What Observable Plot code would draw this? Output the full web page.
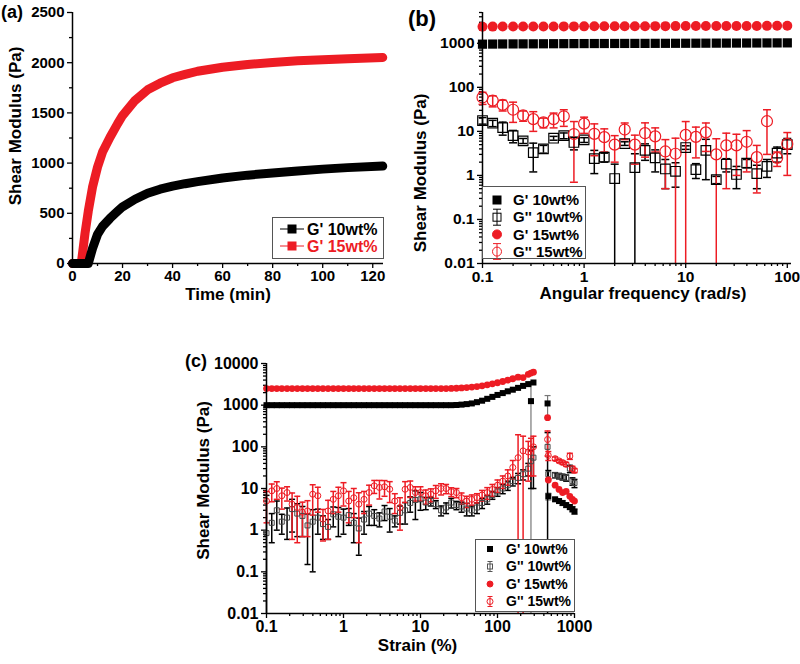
<!DOCTYPE html>
<html><head><meta charset="utf-8">
<script src="https://cdn.jsdelivr.net/npm/d3@7"></script>
<script src="https://cdn.jsdelivr.net/npm/@observablehq/plot@0.6"></script>
<style>
body{margin:0;background:#fff;}
#wrap{position:relative;width:800px;height:664px;overflow:hidden;background:#fff;font-family:"Liberation Sans",Arial,Helvetica,sans-serif;}
.lab{position:absolute;font-weight:bold;color:#000;line-height:1;}
</style></head><body><div id="wrap"></div>
<script>
const RED = "#ed1c24";
const FONT = '"Liberation Sans", Arial, Helvetica, sans-serif';

// ---------- (a) time sweep ----------
const timeA = [0, 2, 3.5, 5, 6.3, 8, 10, 12, 15, 18, 20, 25, 30, 35, 40, 45, 50, 60, 70, 80, 90, 100, 110, 124];
const gp10A = [0, 0, 0, 0, 0, 150, 290, 370, 450, 520, 565, 640, 700, 740, 770, 795, 815, 852, 880, 902, 922, 940, 955, 970];
const gp15A = [0, 0, 0, 300, 520, 760, 960, 1110, 1258, 1391, 1474, 1624, 1730, 1796, 1850, 1883, 1915, 1955, 1982, 2002, 2019, 2029, 2039, 2052];
const ticksAx = [0, 20, 40, 60, 80, 100, 120];
const ticksAy = [0, 500, 1000, 1500, 2000, 2500];
const minorAx = [10, 30, 50, 70, 90, 110];
const minorAy = [250, 750, 1250, 1750, 2250];

// ---------- (b) frequency sweep ----------
const freqB = [0.1, 0.126, 0.158, 0.2, 0.251, 0.316, 0.398, 0.501, 0.631, 0.794, 1, 1.26, 1.58, 2, 2.51, 3.16, 3.98, 5.01, 6.31, 7.94, 10, 12.6, 15.8, 20, 25.1, 31.6, 39.8, 50.1, 63.1, 79.4, 100];
const gp10B = [955, 960, 965, 968, 970, 972, 975, 978, 980, 982, 985, 987, 988, 990, 992, 993, 995, 997, 998, 1000, 1002, 1004, 1006, 1008, 1010, 1012, 1014, 1016, 1018, 1020, 1022];
const gp15B = [2380, 2390, 2395, 2400, 2405, 2410, 2410, 2415, 2420, 2420, 2425, 2430, 2430, 2435, 2440, 2440, 2445, 2450, 2450, 2455, 2460, 2460, 2465, 2470, 2470, 2475, 2480, 2480, 2485, 2490, 2490];
const gpp10B = [17.6, 15.3, 12.2, 8, 6.1, 3.3, 4.0, 7.0, 8, 5.6, 6.4, 2.4, 2.6, 0.85, 5.3, 1.5, 3.7, 2.5, 1.4, 1.24, 4.3, 1.35, 3.7, 0.8, 1.8, 1.05, 1.9, 1.1, 1.6, 3.2, 5.0];
const gpp10Bsd = [3, 2.5, 4, 2.5, 0.8, 2.1, 0.8, 0.7, 1.2, 1.8, 0.8, 1.3, 0.6, 0.95, 0.5, 1.6, 1.5, 1.3, 0.9, 0.7, 0.4, 0.5, 2.9, 0.15, 0.6, 0.55, 0.4, 0.6, 0.7, 1.2, 1.9];
const gpp15B = [59, 50, 40, 31, 23, 19, 16, 19, 22, 8.7, 15, 8.8, 7.4, 5, 11, 5, 9.1, 7.7, 3.5, 3.1, 8.3, 7.5, 9.5, 3.0, 4.8, 4.8, 5.8, 2.6, 17, 2.5, 5.2];
const gpp15Bsd = [18, 14, 11, 15, 6, 9, 4, 7, 9, 8, 6, 6, 4, 3, 4.5, 3.2, 6.5, 4.3, 3.0, 3.9, 8.4, 5, 6, 3.8, 4.3, 3.8, 4.6, 2.2, 14, 0.9, 4.2];
const ticksBx = [0.1, 1, 10, 100];
const ticksBy = [0.01, 0.1, 1, 10, 100, 1000];

// ---------- (c) strain sweep ----------
const strainC = [0.1, 0.117, 0.136, 0.158, 0.185, 0.215, 0.251, 0.293, 0.341, 0.398, 0.464, 0.541, 0.631, 0.736, 0.858,
  1, 1.17, 1.36, 1.58, 1.85, 2.15, 2.51, 2.93, 3.41, 3.98, 4.64, 5.41, 6.31, 7.36, 8.58,
  10, 11.7, 13.6, 15.8, 18.5, 21.5, 25.1, 29.3, 34.1, 39.8, 46.4, 54.1, 63.1, 73.6, 85.8,
  100, 117, 136, 158, 185, 215, 251, 272, 293,
  447, 457, 560, 630, 700, 780, 870, 940, 1000];
const gp10C = [1000, 1000, 1000, 1000, 1000, 1000, 1000, 1000, 1000, 1000, 1000, 1000, 1000, 1000, 1000,
  1000, 1000, 1000, 1000, 1000, 1000, 1000, 1000, 1000, 1000, 1000, 1000, 1000, 1000, 1000,
  1000, 1000, 1000, 1000, 1000, 1000, 1000, 1010, 1030, 1060, 1100, 1180, 1280, 1420, 1580,
  1760, 1950, 2150, 2350, 2600, 2900, 3200, 1250, 3500,
  1100, 6.5, 5.5, 5.0, 4.5, 4.0, 3.6, 3.2, 2.8];
const gp10Csd = [0, 0, 0, 0, 0, 0, 0, 0, 0, 0, 0, 0, 0, 0, 0,
  0, 0, 0, 0, 0, 0, 0, 0, 0, 0, 0, 0, 0, 0, 0,
  0, 0, 0, 0, 0, 0, 0, 0, 0, 0, 0, 0, 0, 0, 0,
  0, 0, 0, 0, 0, 0, 0, 2300, 0,
  600, 1.2, 0.6, 0.6, 0.6, 0.5, 0.5, 0.5, 0.4];
const gp15C = [2500, 2500, 2500, 2500, 2500, 2500, 2500, 2500, 2500, 2500, 2500, 2500, 2500, 2500, 2500,
  2500, 2500, 2500, 2500, 2500, 2500, 2500, 2500, 2500, 2500, 2500, 2500, 2500, 2500, 2500,
  2500, 2500, 2500, 2500, 2500, 2500, 2520, 2550, 2600, 2650, 2720, 2800, 2920, 3080, 3250,
  3450, 3700, 4000, 4300, 4700, 4600, 5500, 5900, 6200,
  500, 16, 12, 9.5, 8, 8.5, 6.5, 5.5, 5];
const gpp10C = [0.85, 1.5, 3.0, 1.6, 2.0, 3.2, 2.5, 2.2, 1.3, 1.6, 2.0, 1.4, 1.2, 2.4, 2.1,
  2.0, 2.3, 1.5, 1.1, 1.8, 2.5, 2.2, 1.9, 2.8, 2.1, 1.7, 2.6, 3.0, 4.5, 5.3,
  5.5, 4.6, 5.0, 4.2, 3.0, 3.5, 4.6, 4.0, 3.7, 3.3, 3.0, 3.5, 4.5, 5.5, 7,
  8.5, 10, 12, 15, 18, 22, 30, 45, 55,
  100, 22, 21, 20, 19, 18, 30, 15, 13.5];
const gpp10Csd = [6, 1.0, 2.0, 0.8, 1.4, 2.3, 1.8, 1.5, 1.15, 1.5, 1.2, 0.8, 0.6, 1.2, 1.4,
  1.2, 1.0, 1.0, 0.85, 1.0, 1.2, 0.9, 0.7, 1.1, 1.2, 0.5, 1.2, 1.6, 1.8, 3.5,
  2.5, 1.5, 1.2, 0.9, 0.8, 1.0, 1.2, 0.9, 1.0, 1.1, 0.8, 1.0, 1.2, 1.3, 1.5,
  2, 2.5, 3, 3.5, 5, 6, 10, 35, 45,
  120, 5, 3, 3, 3, 3, 6, 3, 3];
const gpp15C = [5, 8.8, 10, 6.7, 8, 4.2, 3.5, 2.7, 2.9, 7.3, 6.7, 1.85, 2.9, 5.5, 6.7,
  8.8, 5, 6, 4.2, 5.5, 8, 11.6, 10.6, 11, 9.6, 5, 3.5, 9.6, 10.6, 8,
  8, 6.7, 7.3, 8.8, 10, 10, 8.4, 8, 6, 5, 5.5, 6, 7, 8, 9.5,
  12, 15, 20, 32, 55, 80, 75, 90, 100,
  150, 62, 52, 46, 42, 38, 60, 30, 27];
const gpp15Csd = [3.5, 4, 4.5, 3.5, 3, 3.6, 3, 2, 2.2, 5, 4, 1.3, 2.3, 3, 4,
  5, 3.5, 4, 3.7, 3, 4, 4, 5, 4.5, 5, 2.5, 2.5, 5, 4.5, 3,
  3, 2.5, 2.5, 3, 3, 2.5, 2, 2, 1.8, 1.5, 1.5, 1.5, 2, 2.5, 3,
  4, 5, 8, 15, 140, 100, 60, 70, 80,
  90, 15, 5, 4, 4, 4, 10, 4, 3];
const ticksCx = [0.1, 1, 10, 100, 1000];
const ticksCy = [0.01, 0.1, 1, 10, 100, 1000, 10000];

// ---------- helpers ----------
const wrap = document.getElementById("wrap");
function place(el, left, top) {
  el.style.position = "absolute"; el.style.left = left + "px"; el.style.top = top + "px";
  wrap.appendChild(el);
}
function label(txt, left, top, size) {
  const d = document.createElement("div"); d.className = "lab"; d.textContent = txt;
  d.style.fontSize = size + "px"; place(d, left, top);
}
function logMinor(majors, hi) {
  const out = [];
  majors.forEach(m => { for (let k = 2; k <= 9; k++) { const v = +(m * k).toPrecision(6); if (v <= hi) out.push(v); } });
  return out;
}
const cap = {draw(ctx, size) { const w = Math.sqrt(size); ctx.moveTo(-w / 2, 0); ctx.lineTo(w / 2, 0); }};
function errRows(xs, vals, sds, ymin) {
  return xs.map((x, i) => ({x, sd: sds[i], hi: vals[i] + sds[i], lo: Math.max(vals[i] - sds[i], ymin), clipped: vals[i] - sds[i] <= ymin}))
    .filter(d => d.sd > 0);
}
function errMarks(rows, color, capR, sw) {
  return [
    Plot.ruleX(rows, {x: "x", y1: "lo", y2: "hi", stroke: color, strokeWidth: sw}),
    Plot.dot(rows, {x: "x", y: "hi", symbol: cap, r: capR, stroke: color, strokeWidth: sw, fill: "none"}),
    Plot.dot(rows.filter(d => !d.clipped), {x: "x", y: "lo", symbol: cap, r: capR, stroke: color, strokeWidth: sw, fill: "none"})
  ];
}
function axes(xt, yt, xminor, yminor, fs, fmt) {
  const common = {fontSize: fs, fontWeight: "bold", label: null, stroke: "#000", strokeWidth: 1.3};
  return [
    Plot.axisX({...common, ticks: xt, tickSize: 5, tickPadding: 2, tickFormat: fmt}),
    Plot.axisX({...common, ticks: xminor, tickSize: 3, tickFormat: () => ""}),
    Plot.axisY({...common, ticks: yt, tickSize: 5, tickPadding: 3, tickFormat: fmt}),
    Plot.axisY({...common, ticks: yminor, tickSize: 3, tickFormat: () => ""})
  ];
}
const style = {fontFamily: FONT, fontWeight: "bold", color: "#000", background: "transparent", overflow: "visible"};

// ---------- panel (a) ----------
const dataA = timeA.map((t, i) => ({t, g10: gp10A[i], g15: gp15A[i]}));
const plotA = Plot.plot({
  width: 400, height: 320, marginLeft: 72, marginRight: 17, marginTop: 12, marginBottom: 57,
  style,
  x: {domain: [0, 124.3]},
  y: {domain: [0, 2500]},
  marks: [
    ...axes(ticksAx, ticksAy, minorAx, minorAy, 15, d => String(d)),
    Plot.line(dataA, {x: "t", y: "g15", stroke: RED, strokeWidth: 9}),
    Plot.line(dataA, {x: "t", y: "g10", stroke: "#000", strokeWidth: 9}),
    Plot.ruleX([0], {stroke: "#000", strokeWidth: 1.5}),
    Plot.ruleY([0], {stroke: "#000", strokeWidth: 1.5}),
    Plot.text(["Shear Modulus (Pa)"], {frameAnchor: "left", dx: -57, dy: -12, rotate: -90, textAnchor: "middle", fontSize: 17, fontWeight: "bold"}),
    Plot.text(["Time (min)"], {frameAnchor: "bottom", dy: 36, textAnchor: "middle", fontSize: 17, fontWeight: "bold"})
  ]
});
place(plotA, 0, 0);

// ---------- panel (b) ----------
const yMinB = 0.01;
const dataB = freqB.map((f, i) => ({f, g10: gp10B[i], g15: gp15B[i], gg10: gpp10B[i], gg15: gpp15B[i]}));
const plotB = Plot.plot({
  width: 400, height: 320, marginLeft: 82, marginRight: 9, marginTop: 12, marginBottom: 57,
  style,
  x: {type: "log", domain: [0.1, 110]},
  y: {type: "log", domain: [0.01, 5000]},
  marks: [
    ...axes(ticksBx, ticksBy, logMinor(ticksBx, 110), logMinor(ticksBy, 5000), 15.5, d => String(d)),
    ...errMarks(errRows(freqB, gpp10B, gpp10Bsd, yMinB), "#000", 4.5, 1.5),
    ...errMarks(errRows(freqB, gpp15B, gpp15Bsd, yMinB), RED, 4.5, 1.5),
    Plot.dot(dataB, {x: "f", y: "gg10", symbol: "square", r: 5.4, stroke: "#000", strokeWidth: 1.2, fill: "none"}),
    Plot.dot(dataB, {x: "f", y: "gg15", symbol: "circle", r: 5.5, stroke: RED, strokeWidth: 1.2, fill: "none"}),
    Plot.dot(dataB, {x: "f", y: "g10", symbol: "square", r: 5.2, fill: "#000"}),
    Plot.dot(dataB, {x: "f", y: "g15", symbol: "circle", r: 5, fill: RED}),
    Plot.ruleX([0.1], {stroke: "#000", strokeWidth: 1.5}),
    Plot.ruleY([0.01], {stroke: "#000", strokeWidth: 1.5}),
    Plot.text(["Shear Modulus (Pa)"], {frameAnchor: "left", dx: -62, dy: 35, rotate: -90, textAnchor: "middle", fontSize: 17, fontWeight: "bold"}),
    Plot.text(["Angular frequency (rad/s)"], {frameAnchor: "bottom", dx: 6, dy: 35, textAnchor: "middle", fontSize: 17, fontWeight: "bold"})
  ]
});
place(plotB, 400, 0);

// ---------- panel (c) ----------
const yMinC = 0.01;
const dataC = strainC.map((s, i) => ({s, g10: gp10C[i], g15: gp15C[i], gg10: gpp10C[i], gg15: gpp15C[i]}));
const plotC = Plot.plot({
  width: 480, height: 344, marginLeft: 146, marginRight: 26, marginTop: 43, marginBottom: 51,
  style,
  x: {type: "log", domain: [0.1, 1000]},
  y: {type: "log", domain: [0.01, 10000]},
  marks: [
    ...axes(ticksCx, ticksCy, logMinor(ticksCx, 1000), logMinor(ticksCy, 10000), 16, d => String(d)),
    ...errMarks(errRows(strainC, gp10C, gp10Csd, yMinC), "#777", 3.4, 1.2),
    ...errMarks(errRows(strainC, gpp10C, gpp10Csd, yMinC), "#000", 3.4, 1.5),
    ...errMarks(errRows(strainC, gpp15C, gpp15Csd, yMinC), RED, 3.4, 1.5),
    Plot.dot(dataC, {x: "s", y: "gg10", symbol: "square", r: 2.8, stroke: "#444", strokeWidth: 1, fill: "none"}),
    Plot.dot(dataC, {x: "s", y: "gg15", symbol: "circle", r: 3, stroke: RED, strokeWidth: 1, fill: "none"}),
    Plot.dot(dataC, {x: "s", y: "g10", symbol: "square", r: 3.4, fill: "#000"}),
    Plot.dot(dataC, {x: "s", y: "g15", symbol: "circle", r: 3.4, fill: RED}),
    Plot.ruleX([0.1], {stroke: "#000", strokeWidth: 1.5}),
    Plot.ruleY([0.01], {stroke: "#000", strokeWidth: 1.5}),
    Plot.text(["Shear Modulus (Pa)"], {frameAnchor: "left", dx: -63, dy: -8, rotate: -90, textAnchor: "middle", fontSize: 17, fontWeight: "bold"}),
    Plot.text(["Strain (%)"], {frameAnchor: "bottom", dx: -3, dy: 37, textAnchor: "middle", fontSize: 17, fontWeight: "bold"})
  ]
});
place(plotC, 120, 320);

// ---------- panel letters ----------
label("(a)", 1, 3, 18);
label("(b)", 408, 8, 22);
label("(c)", 185, 352, 18);

// ---------- legends (decoration) ----------
function legend(left, top, w, h, rows, opts) {
  const svg = d3.create("svg").attr("width", w + 2).attr("height", h + 2);
  svg.append("rect").attr("x", 0.5).attr("y", 0.5).attr("width", w).attr("height", h).attr("fill", "#fff").attr("stroke", "#555").attr("stroke-width", 1);
  rows.forEach((r, i) => {
    const cy = opts.y0 + i * opts.dy;
    const g = svg.append("g").attr("transform", `translate(${opts.sx},${cy})`);
    if (r.line) g.append("line").attr("x1", -12).attr("x2", 12).attr("stroke", r.color).attr("stroke-width", 1);
    const s = opts.s;
    if (r.err) {
      g.append("line").attr("y1", -s).attr("y2", s).attr("stroke", r.color).attr("stroke-width", 1);
      g.append("line").attr("x1", -s / 2).attr("x2", s / 2).attr("y1", -s).attr("y2", -s).attr("stroke", r.color);
      g.append("line").attr("x1", -s / 2).attr("x2", s / 2).attr("y1", s).attr("y2", s).attr("stroke", r.color);
    }
    if (r.shape === "square") g.append("rect").attr("x", -s / 2).attr("y", -s / 2).attr("width", s).attr("height", s)
      .attr("fill", r.open ? "none" : r.color).attr("stroke", r.color).attr("stroke-width", 1);
    else g.append("circle").attr("r", s / 2 + 0.5).attr("fill", r.open ? "none" : r.color).attr("stroke", r.color).attr("stroke-width", 1);
    svg.append("text").attr("x", opts.tx).attr("y", cy).attr("dy", "0.35em").attr("fill", r.text)
      .attr("font-family", FONT).attr("font-weight", "bold").attr("font-size", opts.fs).text(r.label);
  });
  place(svg.node(), left, top);
}
legend(272, 217, 111, 41, [
  {label: "G' 10wt%", color: "#000", text: "#000", shape: "square", line: true},
  {label: "G' 15wt%", color: RED, text: RED, shape: "square", line: true}
], {y0: 12, dy: 17, sx: 20, tx: 35, s: 8, fs: 16});
legend(482, 186, 103, 72, [
  {label: "G' 10wt%", color: "#000", text: "#000", shape: "square"},
  {label: "G'' 10wt%", color: "#000", text: "#000", shape: "square", open: true, err: true},
  {label: "G' 15wt%", color: RED, text: "#000", shape: "circle"},
  {label: "G'' 15wt%", color: RED, text: "#000", shape: "circle", open: true, err: true}
], {y0: 14, dy: 17.2, sx: 15, tx: 31, s: 8, fs: 15});
legend(475, 539, 99, 72, [
  {label: "G' 10wt%", color: "#000", text: "#000", shape: "square"},
  {label: "G'' 10wt%", color: "#555", text: "#000", shape: "square", open: true, err: true},
  {label: "G' 15wt%", color: RED, text: "#000", shape: "circle"},
  {label: "G'' 15wt%", color: RED, text: "#000", shape: "circle", open: true, err: true}
], {y0: 10, dy: 17.5, sx: 15, tx: 31, s: 5, fs: 14});
</script></body></html>
